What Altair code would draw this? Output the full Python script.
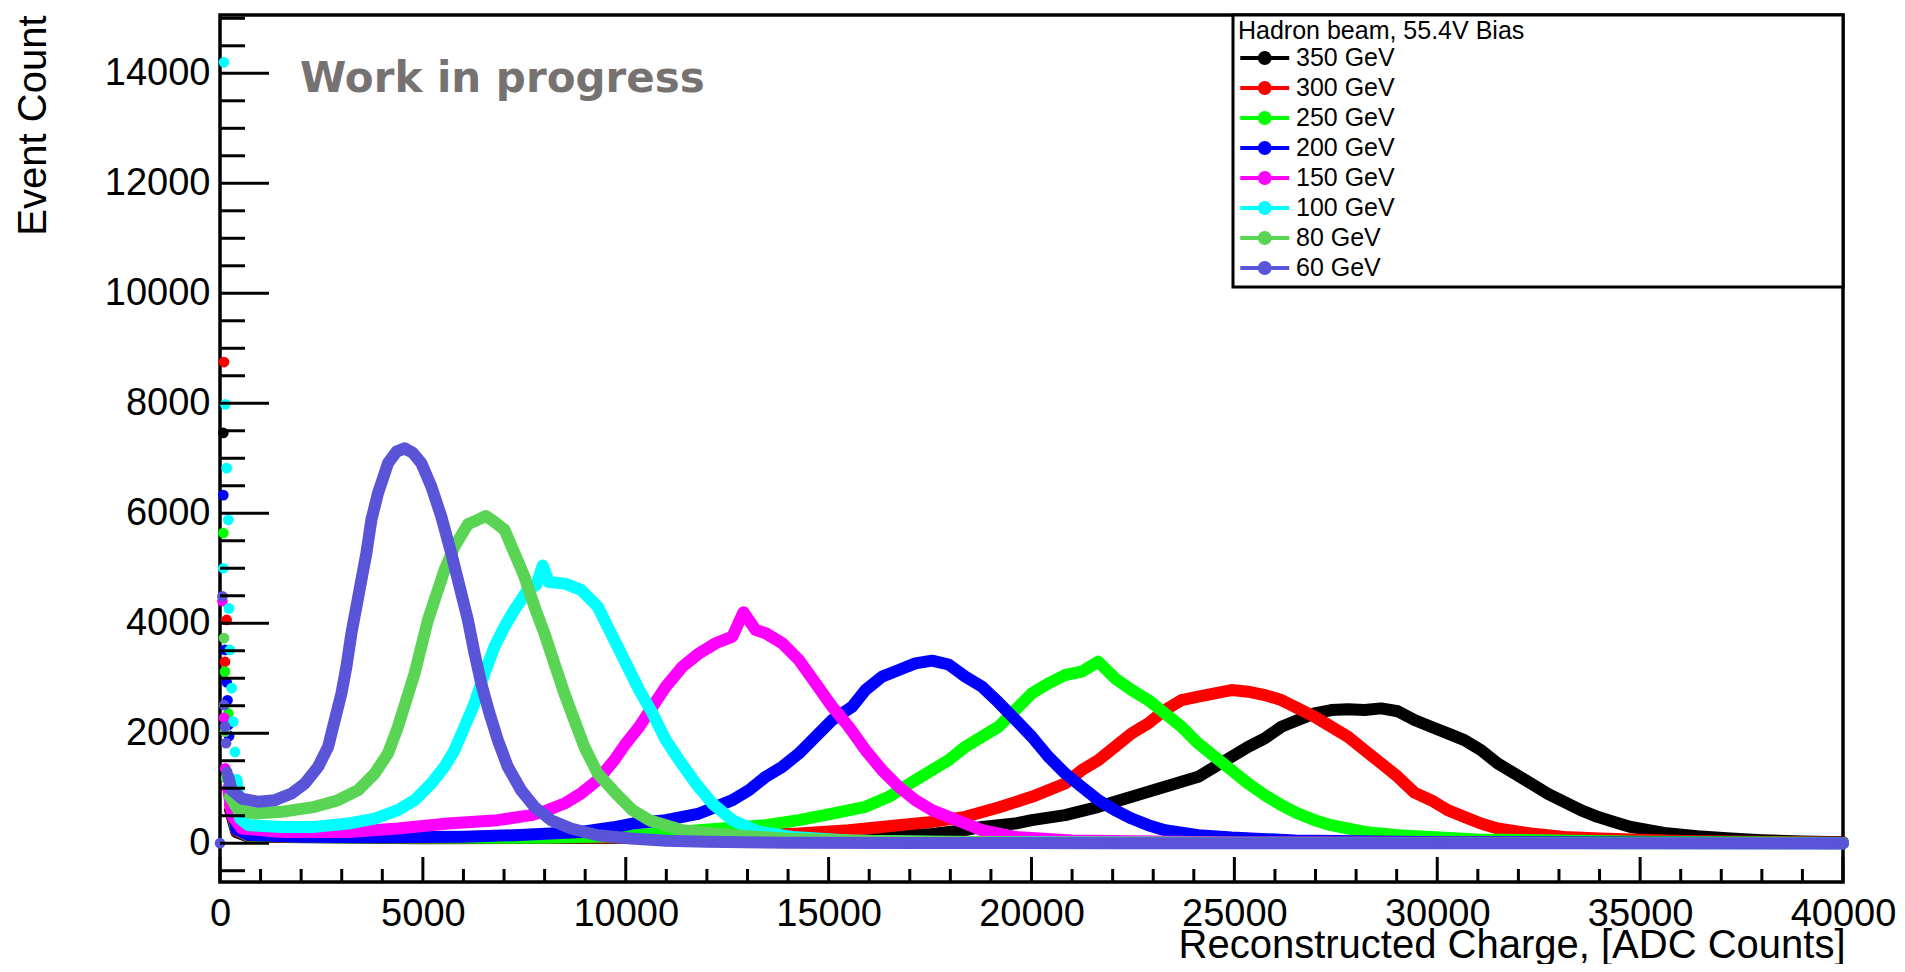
import altair as alt
import pandas as pd

# ---------------- data ----------------
SERIES = ["350 GeV", "300 GeV", "250 GeV", "200 GeV", "150 GeV", "100 GeV", "80 GeV", "60 GeV"]
COLORS = ["#000000", "#ff0000", "#00ff00", "#0000ff", "#ff00ff", "#00ffff", "#59d454", "#5954d8"]

# first bins near zero charge (isolated markers)
S350_Q = [82]
S350_N = [7460]
S300_Q = [98, 123, 164]
S300_N = [8750, 3300, 4060]
S250_Q = [82, 123, 205]
S250_N = [5640, 3120, 2360]
S200_Q = [82, 123, 164, 185, 205, 225]
S200_N = [6330, 3515, 2930, 2600, 2150, 1950]
S150_Q = [60, 100, 130]
S150_N = [4400, 2280, 1360]
S100_Q = [82, 98, 131, 164, 205, 221, 246, 287, 328, 369]
S100_N = [5000, 14200, 7980, 6820, 5880, 4270, 3515, 2820, 2210, 1660]
S80_Q = [98, 123, 150]
S80_N = [3730, 2030, 1180]
S60_Q = [0, 60, 100, 125, 150, 175]
S60_N = [0, 4490, 2510, 2120, 1820, 1300]

# main distributions
Q350 = [250, 400, 700, 5000, 10000, 14000, 15500, 16728, 17548, 18368, 18778, 19598, 20008, 20828, 21648,
        22468, 23288, 24108, 24518, 24928, 25338, 25748, 26158, 26568, 26978, 27388, 27798, 28208, 28618,
        29028, 29438, 29848, 30258, 30668, 31078, 31488, 31898, 32308, 32718, 33128, 33538, 33948, 34358,
        34768, 35588, 36408, 37228, 38000, 39000, 40000]
N350 = [600, 200, 120, 90, 100, 110, 120, 140, 170, 240, 297, 358, 419, 510, 662,
        844, 1026, 1208, 1390, 1572, 1754, 1906, 2118, 2240, 2361, 2422, 2434, 2422, 2452,
        2400, 2240, 2118, 1997, 1876, 1694, 1451, 1269, 1087, 904, 753, 601, 480, 388,
        297, 188, 127, 85, 55, 30, 20]

Q300 = [250, 400, 700, 5000, 10000, 12000, 14268, 15498, 16728, 17548, 18368, 19188, 20008, 20828, 21238,
        21648, 22058, 22468, 22878, 23288, 23698, 24108, 24518, 24928, 25338, 25748, 26158, 26568, 26978,
        27388, 27798, 28208, 28618, 29028, 29438, 29848, 30258, 30668, 31078, 31488, 32308, 33128, 34000,
        36000, 40000]
N300 = [700, 230, 130, 100, 110, 130, 176, 237, 328, 388, 480, 650, 844, 1087, 1329,
        1511, 1754, 1997, 2179, 2422, 2604, 2665, 2725, 2786, 2756, 2695, 2604, 2452, 2300,
        2118, 1936, 1694, 1451, 1208, 920, 783, 601, 480, 358, 267, 176, 115, 85,
        40, 10]

Q250 = [250, 400, 700, 3000, 8000, 10000, 11808, 13448, 14268, 15088, 15908, 16482, 17138, 17548, 17958,
        18368, 18778, 19188, 19598, 20008, 20418, 20828, 21238, 21644, 22058, 22468, 22878, 23288, 23698,
        24108, 24518, 24928, 25338, 25748, 26158, 26568, 26978, 27388, 28208, 29028, 31000, 35000, 40000]
N250 = [800, 250, 140, 110, 100, 130, 237, 328, 419, 540, 662, 844, 1147, 1329, 1511,
        1754, 1936, 2118, 2420, 2725, 2908, 3059, 3120, 3300, 2999, 2786, 2604, 2361, 2118,
        1815, 1572, 1329, 1087, 874, 692, 540, 419, 328, 206, 146, 70, 25, 5]

Q200 = [250, 400, 700, 2000, 4000, 6000, 7257, 8897, 9700, 10168, 10988, 11808, 12218, 12628, 13038,
        13448, 13858, 14268, 14678, 15088, 15580, 15908, 16318, 16728, 17138, 17548, 17958, 18368, 18778,
        19188, 19598, 20008, 20418, 20828, 21238, 21648, 22058, 22468, 22878, 23288, 24108, 24928, 26500,
        30000, 40000]
N200 = [900, 250, 150, 120, 110, 120, 146, 206, 290, 358, 419, 540, 662, 783, 965,
        1208, 1390, 1633, 1936, 2240, 2483, 2786, 3029, 3150, 3270, 3320, 3250, 3029, 2847,
        2560, 2250, 1936, 1572, 1269, 1026, 783, 601, 449, 328, 237, 146, 103, 50,
        20, 0]

Q150 = [200, 300, 533, 1517, 3157, 4387, 5617, 6847, 7667, 8077, 8487, 8897, 9307, 9717, 10004,
        10332, 10660, 10988, 11398, 11808, 12218, 12628, 12900, 13200, 13448, 13858, 14268, 14678, 15088,
        15498, 15908, 16318, 16728, 17138, 17548, 17958, 18368, 18778, 19598, 21000, 25000, 40000]
N150 = [1000, 500, 267, 206, 206, 267, 358, 419, 510, 601, 722, 904, 1147, 1511, 1815,
        2118, 2483, 2847, 3211, 3454, 3636, 3757, 4200, 3880, 3818, 3636, 3332, 2908, 2483,
        2118, 1694, 1329, 1026, 783, 601, 480, 358, 237, 115, 50, 15, 0]

Q100 = [410, 492, 697, 1517, 2337, 3157, 3813, 4387, 4797, 5207, 5535, 5781, 6027, 6273, 6519,
        6765, 7011, 7257, 7585, 7800, 7954, 8100, 8500, 8897, 9307, 9594, 10004, 10332, 10660,
        10988, 11316, 11726, 12136, 12628, 13284, 14104, 15500, 18000, 25000, 40000]
N100 = [1150, 450, 328, 297, 297, 358, 449, 601, 783, 1087, 1390, 1694, 2118, 2543, 3090,
        3575, 3939, 4243, 4607, 4700, 5050, 4750, 4720, 4607, 4304, 3879, 3272, 2786, 2361,
        1876, 1511, 1087, 722, 419, 206, 115, 50, 20, 5, 0]

Q80 = [246, 451, 861, 1517, 2337, 2911, 3403, 3813, 4141, 4387, 4592, 4797, 4961, 5125, 5289,
       5535, 5781, 6109, 6350, 6550, 6750, 7011, 7257, 7503, 7749, 7995, 8241, 8487, 8733,
       8979, 9307, 9758, 10168, 10578, 11398, 12628, 14000, 16000, 20000, 30000, 40000]
N80 = [844, 601, 540, 571, 662, 783, 965, 1269, 1633, 2118, 2604, 3090, 3575, 4061, 4425,
       4971, 5396, 5800, 5880, 5950, 5850, 5700, 5275, 4850, 4304, 3818, 3272, 2725, 2240,
       1754, 1269, 904, 601, 419, 237, 146, 80, 40, 15, 3, 0]

Q60 = [205, 287, 533, 943, 1353, 1763, 2091, 2419, 2665, 2829, 2993, 3116, 3239, 3362, 3485,
       3608, 3731, 3895, 4141, 4350, 4551, 4750, 4961, 5207, 5453, 5699, 5904, 6109, 6273,
       6437, 6642, 6847, 7093, 7421, 7749, 8159, 8651, 9307, 10127, 11000, 12000, 14000, 17000,
       22000, 30000, 40000]
N60 = [1210, 965, 813, 753, 783, 904, 1087, 1390, 1754, 2240, 2725, 3211, 3818, 4304, 4789,
       5275, 5882, 6367, 6913, 7120, 7180, 7100, 6913, 6489, 5942, 5275, 4668, 4061, 3454,
       2908, 2361, 1876, 1390, 965, 662, 419, 267, 146, 85, 45, 25, 10, 4,
       1, 0, 0]

X_MAJOR = [0, 5000, 10000, 15000, 20000, 25000, 30000, 35000, 40000]
X_MINOR = [v for v in range(0, 40001, 1000) if v % 5000 != 0]
Y_MAJOR = [0, 2000, 4000, 6000, 8000, 10000, 12000, 14000]
Y_MINOR = [v for v in range(-500, 15001, 500) if v % 2000 != 0]

BODIES = {
    "350 GeV": (Q350, N350, S350_Q, S350_N),
    "300 GeV": (Q300, N300, S300_Q, S300_N),
    "250 GeV": (Q250, N250, S250_Q, S250_N),
    "200 GeV": (Q200, N200, S200_Q, S200_N),
    "150 GeV": (Q150, N150, S150_Q, S150_N),
    "100 GeV": (Q100, N100, S100_Q, S100_N),
    "80 GeV": (Q80, N80, S80_Q, S80_N),
    "60 GeV": (Q60, N60, S60_Q, S60_N),
}

# ---------------- chart ----------------
W, H = 1623, 867
FONT = "Liberation Sans"

xscale = alt.Scale(domain=[0, 40000], nice=False, zero=False)
yscale = alt.Scale(domain=[-705, 15060], nice=False, zero=False)

xaxis = alt.Axis(values=X_MAJOR, format="d", labelFont=FONT, labelFontSize=38, labelColor="black",
                 labelPadding=13, labelFlush=False, labelOverlap=False, ticks=False, tickSize=0,
                 domain=False, grid=False,
                 title="Reconstructed Charge, [ADC Counts]", titleFont=FONT, titleFontSize=40,
                 titleFontWeight="normal", titleColor="black", titleX=W + 2, titleY=75,
                 titleAlign="right", titleBaseline="alphabetic")
yaxis = alt.Axis(values=Y_MAJOR, format="d", labelFont=FONT, labelFontSize=38, labelColor="black",
                 labelPadding=10, labelOverlap=False, ticks=False, tickSize=0, domain=False, grid=False,
                 title="Event Count", titleFont=FONT, titleFontSize=40, titleFontWeight="normal",
                 titleColor="black", titleAngle=270, titleX=-175, titleY=0,
                 titleAlign="right", titleBaseline="alphabetic")

SYMBOL = "M-1,0H3M0.6,0A0.4,0.4,0,1,1,1.4,0A0.4,0.4,0,1,1,0.6,0Z"
legend = alt.Legend(orient="none", legendX=1018, legendY=3.5, padding=0,
                    title="Hadron beam, 55.4V Bias", titleFont=FONT, titleFontSize=25,
                    titleFontWeight="normal", titleColor="black", titlePadding=0, titleLimit=800,
                    labelFont=FONT, labelFontSize=25, labelColor="black", labelOffset=29, labelLimit=600,
                    symbolType=SYMBOL, symbolSize=600, symbolStrokeWidth=4, rowPadding=2)

color = alt.Color("series:N", scale=alt.Scale(domain=SERIES, range=COLORS), legend=legend)

X = alt.X("q:Q", scale=xscale, axis=xaxis)
Y = alt.Y("n:Q", scale=yscale, axis=yaxis)

layers = []

# legend frame (drawn under the legend)
box = alt.Chart(pd.DataFrame({"a": [0]})).mark_rect(
    fill="white", stroke="black", strokeWidth=3
).encode(x=alt.value(1013), x2=alt.value(W), y=alt.value(0), y2=alt.value(272))

for name in SERIES:
    q, n, sq, sn = BODIES[name]
    body = pd.DataFrame({"q": q, "n": n, "series": name})
    allp = pd.DataFrame({"q": list(sq) + list(q), "n": list(sn) + list(n), "series": name})
    line = alt.Chart(body).mark_line(strokeWidth=12, strokeCap="round", strokeJoin="round").encode(
        x=X, y=Y, color=color, order=alt.Order("q:Q"))
    pts = alt.Chart(allp).mark_circle(size=115, opacity=1).encode(x=X, y=Y, color=color)
    layers += [line, pts]

xmaj = alt.Chart(pd.DataFrame({"q": X_MAJOR})).mark_rule(color="black", strokeWidth=3).encode(
    x=X, y=alt.value(H), y2=alt.value(H - 25))
xmin = alt.Chart(pd.DataFrame({"q": X_MINOR})).mark_rule(color="black", strokeWidth=3).encode(
    x=X, y=alt.value(H), y2=alt.value(H - 13))
ymaj = alt.Chart(pd.DataFrame({"n": Y_MAJOR})).mark_rule(color="black", strokeWidth=3).encode(
    y=Y, x=alt.value(0), x2=alt.value(49))
ymin = alt.Chart(pd.DataFrame({"n": Y_MINOR})).mark_rule(color="black", strokeWidth=3).encode(
    y=Y, x=alt.value(0), x2=alt.value(25))

wip = alt.Chart(pd.DataFrame({"a": [0]})).mark_text(
    font="DejaVu Sans", fontWeight="bold", fontSize=42, color="#767272", align="left",
    baseline="alphabetic"
).encode(x=alt.value(80), y=alt.value(77), text=alt.value("Work in progress"))

chart = alt.layer(*layers, box, xmaj, xmin, ymaj, ymin, wip).properties(
    width=W, height=H,
    padding={"left": 212, "top": 7, "right": 53, "bottom": 82},
    autosize=alt.AutoSizeParams(type="none"),
    background="white",
).configure_view(stroke="black", strokeWidth=3.5)

chart.save("out.html", embed_options={"renderer": "svg", "actions": False})
